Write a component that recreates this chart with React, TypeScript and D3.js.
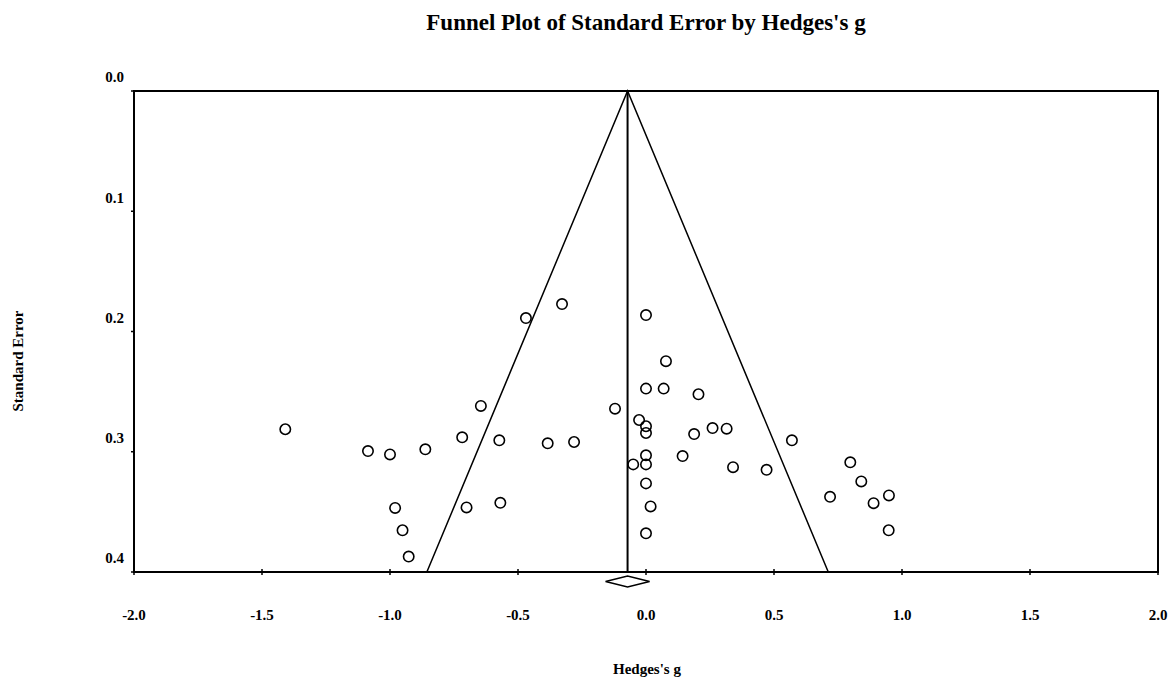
import React from "react";
import * as d3 from "d3";

const effects = [
  -1.409, -1.086, -1.0, -0.862, -0.718, -0.573, -0.645, -0.469, -0.328, 0.0,
  0.078, 0.0, 0.069, 0.205, -0.121, -0.027, 0.0, 0.0, 0.26, 0.315,
  0.188, 0.57, -0.384, -0.281, 0.0, -0.05, 0.0, 0.143, 0.34, 0.471,
  0.798, 0.841, 0.719, 0.889, 0.949, 0.948, 0.0, 0.018, 0.0, -0.98,
  -0.701, -0.569, -0.951, -0.927,
];
const stdErrors = [
  0.2813, 0.2994, 0.3022, 0.298, 0.288, 0.2905, 0.2619, 0.1888, 0.1772, 0.1863,
  0.2247, 0.2475, 0.2475, 0.2522, 0.2642, 0.2736, 0.2788, 0.2844, 0.2803, 0.2808,
  0.2853, 0.2905, 0.293, 0.2919, 0.303, 0.3105, 0.3105, 0.3036, 0.3128, 0.315,
  0.3088, 0.3247, 0.3375, 0.3428, 0.3363, 0.3653, 0.3263, 0.3455, 0.3678, 0.3467,
  0.3463, 0.3425, 0.3653, 0.3872,
];
const xTicks = [-2.0, -1.5, -1.0, -0.5, 0.0, 0.5, 1.0, 1.5, 2.0];
const yTicks = [0.0, 0.1, 0.2, 0.3, 0.4];
const pooledEffect = -0.072;
const pooledHalfWidth = 0.086;
const seMax = 0.4;

const W = 1173;
const H = 682;
const FONT = "'Liberation Serif', 'Times New Roman', serif";

export default function App() {
  const x = d3.scaleLinear().domain([-2, 2]).range([134, 1158]);
  const y = d3.scaleLinear().domain([0, seMax]).range([91, 572]);
  const [x0, x1] = x.range();
  const [y0, y1] = y.range();

  const funnel = d3.line<[number, number]>()
    .x((d) => x(d[0]))
    .y((d) => y(d[1]));
  const funnelPts: [number, number][] = [
    [pooledEffect - 1.96 * seMax, seMax],
    [pooledEffect, 0],
    [pooledEffect + 1.96 * seMax, seMax],
  ];
  const dy = 581.5;
  const diamond = `M${x(pooledEffect - pooledHalfWidth)},${dy} L${x(pooledEffect)},${dy - 5.5} L${x(pooledEffect + pooledHalfWidth)},${dy} L${x(pooledEffect)},${dy + 5.5} Z`;

  return (
    <svg
      width={W}
      height={H}
      style={{ position: "absolute", left: 0, top: 0, background: "#fff" }}
      fontFamily={FONT}
    >
      <rect width={W} height={H} fill="#fff" />
      <text x={646} y={30} textAnchor="middle" fontSize={23} fontWeight="bold">
        Funnel Plot of Standard Error by Hedges's g
      </text>
      {/* frame */}
      <rect x={x0} y={y0} width={x1 - x0} height={y1 - y0} fill="none" stroke="#000" strokeWidth={2} />
      {/* x ticks */}
      {xTicks.map((t) => (
        <g key={"x" + t}>
          <line x1={x(t)} x2={x(t)} y1={y1 - 3} y2={y1 + 3} stroke="#000" strokeWidth={1.5} />
          <text x={x(t)} y={617} textAnchor="middle" dominantBaseline="middle" fontSize={15} fontWeight="bold">
            {t.toFixed(1)}
          </text>
        </g>
      ))}
      {/* y ticks */}
      {yTicks.map((t) => (
        <g key={"y" + t}>
          <line x1={x0 - 3} x2={x0} y1={y(t)} y2={y(t)} stroke="#000" strokeWidth={1.5} />
          <text x={124} y={y(t) - 12} textAnchor="end" dominantBaseline="middle" fontSize={15} fontWeight="bold">
            {t.toFixed(1)}
          </text>
        </g>
      ))}
      {/* funnel */}
      <path d={funnel(funnelPts) || ""} fill="none" stroke="#000" strokeWidth={1.5} />
      <line x1={x(pooledEffect)} x2={x(pooledEffect)} y1={y0} y2={y1} stroke="#000" strokeWidth={2} />
      <path d={diamond} fill="#fff" stroke="#000" strokeWidth={1.5} />
      {/* points */}
      {effects.map((e, i) => (
        <circle key={i} cx={x(e)} cy={y(stdErrors[i])} r={5.2} fill="none" stroke="#000" strokeWidth={1.6} />
      ))}
      <text
        transform={`translate(20,361) rotate(-90)`}
        textAnchor="middle"
        dominantBaseline="middle"
        fontSize={15}
        fontWeight="bold"
      >
        Standard Error
      </text>
      <text x={647} y={671} textAnchor="middle" dominantBaseline="middle" fontSize={15} fontWeight="bold">
        Hedges's g
      </text>
    </svg>
  );
}
